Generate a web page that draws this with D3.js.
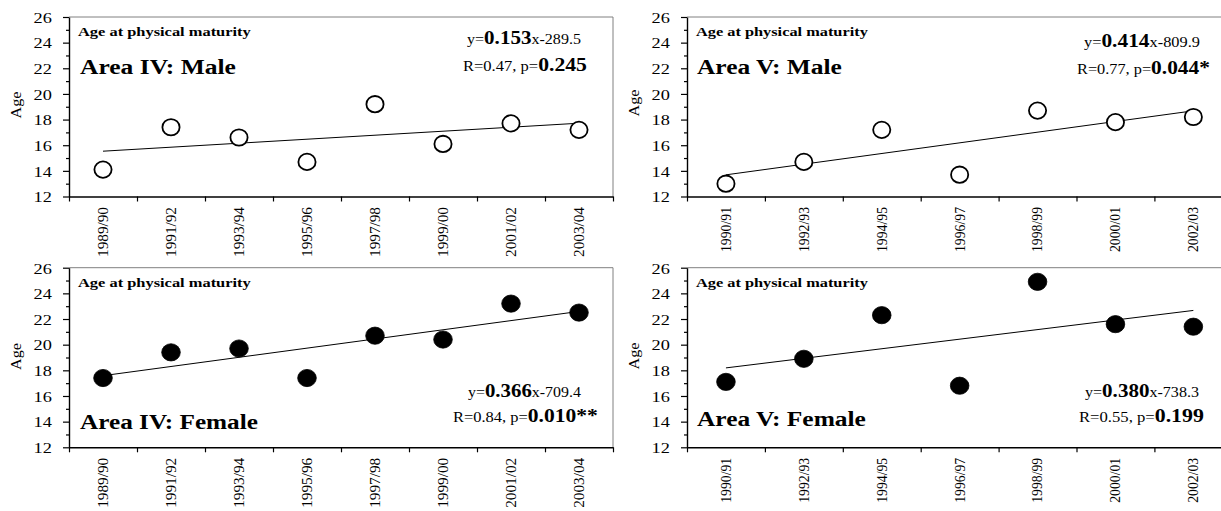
<!DOCTYPE html>
<html>
<head>
<meta charset="utf-8">
<script src="https://cdn.jsdelivr.net/npm/d3@7"></script>
<style>
  html, body { margin: 0; padding: 0; background: #fff; }
  svg { display: block; font-family: "Liberation Serif", "Times New Roman", serif; }
</style>
</head>
<body>
<svg id="chart" width="1221" height="511"></svg>
<script>
// ---------------- DATA ----------------
const seasonsIV = ["1989/90", "1991/92", "1993/94", "1995/96", "1997/98", "1999/00", "2001/02", "2003/04"];
const seasonsV  = ["1990/91", "1992/93", "1994/95", "1996/97", "1998/99", "2000/01", "2002/03"];

const maleIV   = [14.1, 17.4, 16.6, 14.7, 19.2, 16.1, 17.7, 17.2];
const femaleIV = [17.4, 19.4, 19.7, 17.4, 20.7, 20.4, 23.2, 22.5];
const maleV    = [13.0, 14.7, 17.2, 13.7, 18.7, 17.8, 18.2];
const femaleV  = [17.1, 18.9, 22.3, 16.8, 24.9, 21.6, 21.4];

const yTicks      = [12, 14, 16, 18, 20, 22, 24, 26];
const yMinorTicks = [13, 15, 17, 19, 21, 23, 25];

const subtitle = "Age at physical maturity";
const titles   = ["Area IV: Male", "Area V: Male", "Area IV: Female", "Area V: Female"];
const slopes   = ["0.153", "0.414", "0.366", "0.380"];
const intercepts = ["x-289.5", "x-809.9", "x-709.4", "x-738.3"];
const rValues  = ["R=0.47, p=", "R=0.77, p=", "R=0.84, p=", "R=0.55, p="];
const pValues  = ["0.245", "0.044*", "0.010**", "0.199"];

// ---------------- LAYOUT ----------------
const panels = [
  { cats: seasonsIV, vals: maleIV, filled: false, x0: 69, x1: 613, y0: 17, y1: 196.5,
    tX: 80, tY: 74, tW: 156, sX: 78, sY: 36, sW: 173,
    e1X: 467, e1Y: 44, e1W: 114, e2X: 463, e2Y: 71, e2W: 124, lblLen: 50, ageX: 20.5, ageY: 105 },
  { cats: seasonsV, vals: maleV, filled: false, x0: 687, x1: 1232.3, y0: 17, y1: 196.5,
    tX: 697, tY: 74, tW: 145, sX: 696, sY: 36, sW: 172,
    e1X: 1084, e1Y: 46.5, e1W: 116, e2X: 1077, e2Y: 74, e2W: 133, lblLen: 45, ageX: 638.5, ageY: 103 },
  { cats: seasonsIV, vals: femaleIV, filled: true, x0: 69, x1: 613, y0: 267.7, y1: 447.3,
    tX: 80, tY: 429, tW: 178, sX: 78, sY: 287.3, sW: 173,
    e1X: 468, e1Y: 396.7, e1W: 113, e2X: 453, e2Y: 421.7, e2W: 145, lblLen: 50, ageX: 20.5, ageY: 356.5 },
  { cats: seasonsV, vals: femaleV, filled: true, x0: 687, x1: 1232.3, y0: 267.7, y1: 447.3,
    tX: 697, tY: 425.7, tW: 169, sX: 696, sY: 287.3, sW: 172,
    e1X: 1085, e1Y: 396.7, e1W: 114, e2X: 1079, e2Y: 421.7, e2W: 125, lblLen: 45, ageX: 638.5, ageY: 356 }
];

const svg = d3.select("#chart");

// text helper: builds text from parts and stretches it horizontally to a target width
function fitText(parent, x, y, parts, targetW) {
  const t = parent.append("text").attr("x", 0).attr("y", 0).attr("fill", "#000");
  parts.forEach(p => {
    t.append("tspan")
      .attr("font-size", p.size)
      .attr("font-weight", p.bold ? "bold" : "normal")
      .text(p.text);
  });
  const w = t.node().getComputedTextLength();
  const s = w > 0 ? targetW / w : 1;
  t.attr("transform", `translate(${x},${y}) scale(${s},1)`);
  return t;
}

function linreg(vals) {
  const n = vals.length;
  const xs = d3.range(n);
  const mx = d3.mean(xs), my = d3.mean(vals);
  let sxy = 0, sxx = 0;
  xs.forEach((xv, i) => { sxy += (xv - mx) * (vals[i] - my); sxx += (xv - mx) * (xv - mx); });
  const b = sxy / sxx;
  return { b, a: my - b * mx };
}

panels.forEach((P, k) => {
  const g = svg.append("g");
  const x = d3.scaleBand().domain(P.cats).range([P.x0, P.x1]).padding(0);
  const xEdge = d3.scaleLinear().domain([0, P.cats.length]).range([P.x0, P.x1]);
  const y = d3.scaleLinear().domain([12, 26]).range([P.y1, P.y0]);

  // plot area border (grey top/right)
  g.append("path")
    .attr("d", `M${P.x0},${P.y0}H${P.x1}V${P.y1}`)
    .attr("fill", "none").attr("stroke", "#808080").attr("stroke-width", 1);

  // y axis major + minor ticks
  const yAxis = g.append("g").attr("transform", `translate(${P.x0},0)`)
    .call(d3.axisLeft(y).tickValues(yTicks).tickSize(6).tickSizeOuter(0).tickFormat(""));
  const yMinor = g.append("g").attr("transform", `translate(${P.x0},0)`)
    .call(d3.axisLeft(y).tickValues(yMinorTicks).tickSize(3).tickSizeOuter(0).tickFormat(""));
  yMinor.select(".domain").remove();
  [yAxis, yMinor].forEach(a => {
    a.selectAll("line").attr("stroke", "#000").attr("stroke-width", 1.2);
    a.selectAll(".domain").attr("stroke", "#000").attr("stroke-width", 1.4);
  });

  // y tick labels
  yTicks.forEach(v => {
    fitText(g, P.x0 - 35.5, y(v) + 5.8, [{ text: String(v), size: 14.5 }], 18.3);
  });

  // x axis (ticks at band boundaries)
  const xAxis = g.append("g").attr("transform", `translate(0,${P.y1})`)
    .call(d3.axisBottom(xEdge).tickValues(d3.range(P.cats.length + 1)).tickSize(5).tickSizeOuter(0).tickFormat(""));
  xAxis.selectAll("line").attr("stroke", "#000").attr("stroke-width", 1.2);
  xAxis.selectAll(".domain").attr("stroke", "#000").attr("stroke-width", 1.4);

  // x labels, rotated
  g.selectAll("text.xl").data(P.cats).enter().append("text")
    .attr("class", "xl")
    .attr("transform", d => `translate(${x(d) + x.bandwidth() / 2},${P.y1 + 10.5}) rotate(-90)`)
    .attr("text-anchor", "end")
    .attr("dy", "0.34em")
    .attr("font-size", 14.5)
    .attr("textLength", P.lblLen)
    .attr("lengthAdjust", "spacingAndGlyphs")
    .attr("fill", "#000")
    .text(d => d);

  // y axis title
  g.append("text")
    .attr("transform", `translate(${P.ageX},${P.ageY}) rotate(-90)`)
    .attr("text-anchor", "middle")
    .attr("font-size", 14.5)
    .attr("textLength", 27)
    .attr("lengthAdjust", "spacingAndGlyphs")
    .attr("fill", "#000")
    .text("Age");

  // trend line from least squares
  const r = linreg(P.vals);
  const n = P.cats.length;
  const line = d3.line().x(i => x(P.cats[i]) + x.bandwidth() / 2).y(i => y(r.a + r.b * i));
  g.append("path").attr("d", line([0, n - 1]))
    .attr("fill", "none").attr("stroke", "#000").attr("stroke-width", 1);

  // markers
  g.selectAll("ellipse.pt").data(P.vals).enter().append("ellipse")
    .attr("class", "pt")
    .attr("cx", (d, i) => x(P.cats[i]) + x.bandwidth() / 2)
    .attr("cy", d => y(d))
    .attr("rx", P.filled ? 9.3 : 8.6)
    .attr("ry", P.filled ? 8.6 : 8.2)
    .attr("fill", P.filled ? "#000" : "#fff")
    .attr("stroke", "#000")
    .attr("stroke-width", P.filled ? 0.8 : 1.8);

  // texts
  fitText(g, P.sX, P.sY, [{ text: subtitle, size: 12.5, bold: true }], P.sW);
  fitText(g, P.tX, P.tY, [{ text: titles[k], size: 21, bold: true }], P.tW);
  fitText(g, P.e1X, P.e1Y, [
    { text: "y=", size: 14.5 }, { text: slopes[k], size: 19, bold: true }, { text: intercepts[k], size: 14.5 }
  ], P.e1W);
  fitText(g, P.e2X, P.e2Y, [
    { text: rValues[k], size: 14.5 }, { text: pValues[k], size: 19, bold: true }
  ], P.e2W);
});
</script>
</body>
</html>
